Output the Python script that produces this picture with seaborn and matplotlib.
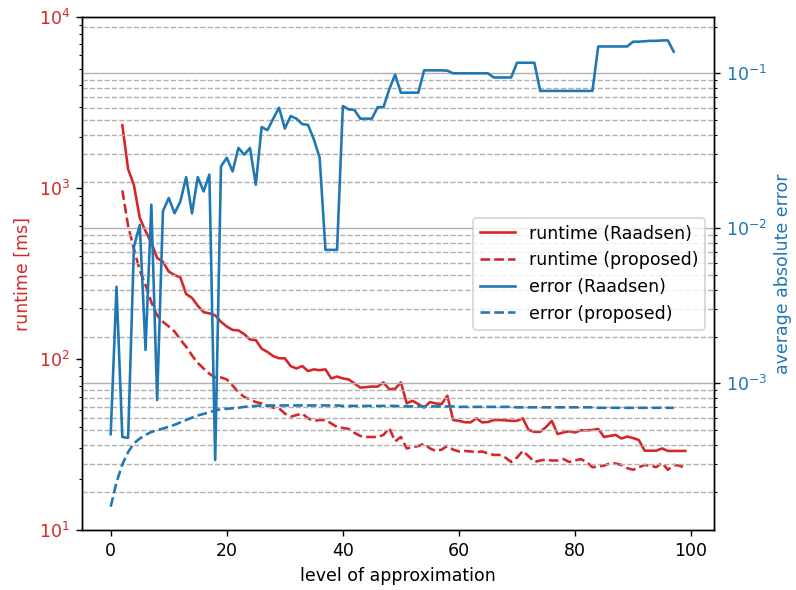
import numpy as np
import pandas as pd
import matplotlib
matplotlib.use("Agg")
import matplotlib.pyplot as plt
import seaborn as sns

# level of approximation for each series
levels_runtime = list(range(2, 100))
levels_error = list(range(0, 98))

runtime_raadsen = [
    2330, 1290, 1040, 670, 560, 480, 390, 370, 325, 310,
    300, 240, 228, 205, 188, 185, 180, 165, 155, 148,
    147, 140, 130, 129, 115, 110, 104, 101, 101, 91,
    88, 91, 85, 87, 86, 87, 77, 79, 77, 76,
    72, 68, 68.5, 69, 69, 73, 66.5, 67, 73, 55,
    57, 54.5, 52, 56, 55, 54.5, 61, 44, 43.5, 42.7,
    42.6, 45, 42.6, 42.8, 44, 44, 43.8, 43.5, 43.5, 45,
    38.5, 37.5, 37.5, 40, 43.5, 36.4, 37.2, 37.8, 37.2, 38.3,
    38.3, 38.5, 39, 35, 35.5, 36, 34.3, 35.2, 34.5, 33.6,
    29.1, 29.1, 29.1, 30, 29, 29, 29, 29,
]

runtime_proposed = [
    970, 600, 440, 330, 270, 215, 180, 165, 155, 145,
    130, 118, 105, 95, 88, 82, 78, 78, 76, 70,
    64, 60, 58, 56, 55, 53, 52, 51.5, 48, 46,
    47, 48, 45, 43.5, 44, 44, 42, 40, 39.5, 39,
    37, 35.5, 35, 35, 35, 36, 39.5, 33, 35, 30,
    30.5, 31, 32, 30, 29, 29.5, 31, 29.5, 28.8, 29,
    28.8, 28.5, 28.8, 28, 27.5, 27.5, 26.5, 25, 26.5, 29,
    27, 25, 25.5, 25.8, 25.5, 25.5, 26, 25, 25.5, 26,
    25, 23.3, 23.5, 23.8, 24.5, 24.5, 24, 23, 22.5, 23.3,
    24, 23.8, 23.3, 24.7, 22.5, 24, 23.8, 23,
]

error_raadsen = [
    4.7e-4, 4.2e-3, 4.5e-4, 4.45e-4, 7.6e-3, 1.05e-2, 1.64e-3, 1.42e-2, 7.8e-4, 1.29e-2,
    1.57e-2, 1.25e-2, 1.49e-2, 2.14e-2, 1.25e-2, 2.14e-2, 1.73e-2, 2.22e-2, 3.2e-4, 2.51e-2,
    2.85e-2, 2.33e-2, 3.3e-2, 2.99e-2, 3.3e-2, 1.91e-2, 4.5e-2, 4.3e-2, 5.1e-2, 6.0e-2,
    4.4e-2, 5.3e-2, 5.1e-2, 4.7e-2, 4.65e-2, 3.75e-2, 2.85e-2, 7.26e-3, 7.26e-3, 7.26e-3,
    6.15e-2, 5.85e-2, 5.8e-2, 5.1e-2, 5.1e-2, 5.1e-2, 6.05e-2, 6.05e-2, 7.9e-2, 9.8e-2,
    7.5e-2, 7.5e-2, 7.5e-2, 7.5e-2, 1.045e-1, 1.045e-1, 1.045e-1, 1.045e-1, 1.04e-1, 1.0e-1,
    1.0e-1, 1.0e-1, 1.0e-1, 1.0e-1, 1.0e-1, 1.0e-1, 9.4e-2, 9.4e-2, 9.4e-2, 9.4e-2,
    1.17e-1, 1.17e-1, 1.17e-1, 1.17e-1, 7.7e-2, 7.7e-2, 7.7e-2, 7.7e-2, 7.7e-2, 7.7e-2,
    7.7e-2, 7.7e-2, 7.7e-2, 7.7e-2, 1.49e-1, 1.49e-1, 1.49e-1, 1.49e-1, 1.49e-1, 1.49e-1,
    1.6e-1, 1.6e-1, 1.61e-1, 1.62e-1, 1.62e-1, 1.63e-1, 1.63e-1, 1.38e-1,
]

error_proposed = [
    1.6e-4, 2.3e-4, 3.0e-4, 3.6e-4, 4.1e-4, 4.4e-4, 4.65e-4, 4.85e-4, 5.0e-4, 5.1e-4,
    5.25e-4, 5.4e-4, 5.6e-4, 5.8e-4, 6.0e-4, 6.2e-4, 6.35e-4, 6.5e-4, 6.7e-4, 6.8e-4,
    6.85e-4, 6.9e-4, 6.95e-4, 7.05e-4, 7.1e-4, 7.15e-4, 7.2e-4, 7.2e-4, 7.2e-4, 7.2e-4,
    7.2e-4, 7.2e-4, 7.2e-4, 7.2e-4, 7.2e-4, 7.2e-4, 7.2e-4, 7.2e-4, 7.2e-4, 7.2e-4,
    7.15e-4, 7.15e-4, 7.15e-4, 7.15e-4, 7.15e-4, 7.15e-4, 7.15e-4, 7.15e-4, 7.15e-4, 7.15e-4,
    7.1e-4, 7.1e-4, 7.1e-4, 7.1e-4, 7.1e-4, 7.1e-4, 7.1e-4, 7.1e-4, 7.1e-4, 7.1e-4,
    7.05e-4, 7.05e-4, 7.05e-4, 7.05e-4, 7.05e-4, 7.05e-4, 7.05e-4, 7.05e-4, 7.05e-4, 7.05e-4,
    7.0e-4, 7.0e-4, 7.0e-4, 7.0e-4, 7.0e-4, 7.0e-4, 7.0e-4, 7.0e-4, 7.0e-4, 7.0e-4,
    7.0e-4, 7.0e-4, 7.0e-4, 7.0e-4, 6.95e-4, 6.95e-4, 6.95e-4, 6.95e-4, 6.95e-4, 6.95e-4,
    6.95e-4, 6.95e-4, 6.95e-4, 6.95e-4, 6.95e-4, 6.95e-4, 6.95e-4, 6.95e-4,
]

RED = "#d62728"
BLUE = "#1f77b4"

runtime_df = pd.DataFrame({
    "level": levels_runtime,
    "raadsen": runtime_raadsen,
    "proposed": runtime_proposed,
})
error_df = pd.DataFrame({
    "level": levels_error,
    "raadsen": error_raadsen,
    "proposed": error_proposed,
})

DPI = 125
fig, ax1 = plt.subplots(figsize=(796 / DPI, 590 / DPI), dpi=DPI)
fig.subplots_adjust(left=0.103, right=0.897, bottom=0.1017, top=0.971)

sns.lineplot(data=runtime_df, x="level", y="raadsen", ax=ax1, color=RED,
             linewidth=1.5, label="runtime (Raadsen)", legend=False)
sns.lineplot(data=runtime_df, x="level", y="proposed", ax=ax1, color=RED,
             linewidth=1.5, linestyle="--", label="runtime (proposed)", legend=False)
ax1.set_yscale("log")
ax1.set_ylim(10, 1e4)
ax1.set_xlabel("level of approximation")
ax1.set_ylabel("runtime [ms]", color=RED)
ax1.tick_params(axis="y", which="both", labelcolor=RED)

ax2 = ax1.twinx()
sns.lineplot(data=error_df, x="level", y="raadsen", ax=ax2, color=BLUE,
             linewidth=1.5, label="error (Raadsen)", legend=False)
sns.lineplot(data=error_df, x="level", y="proposed", ax=ax2, color=BLUE,
             linewidth=1.5, linestyle="--", label="error (proposed)", legend=False)
ax2.set_yscale("log")
ax2.set_ylabel("average absolute error", color=BLUE)
ax2.tick_params(axis="y", which="both", labelcolor=BLUE)
ax2.grid(True, which="major", linestyle="-", color="#b0b0b0", linewidth=0.8)
ax2.grid(True, which="minor", linestyle="--", color="#b0b0b0", linewidth=0.8)

ax1.set_xlim(-4.95, 103.95)
ax1.set_xticks([0, 20, 40, 60, 80, 100])

h1, l1 = ax1.get_legend_handles_labels()
h2, l2 = ax2.get_legend_handles_labels()
ax2.legend(h1 + h2, l1 + l2, loc="center right")

fig.savefig("out.png", dpi=DPI)
